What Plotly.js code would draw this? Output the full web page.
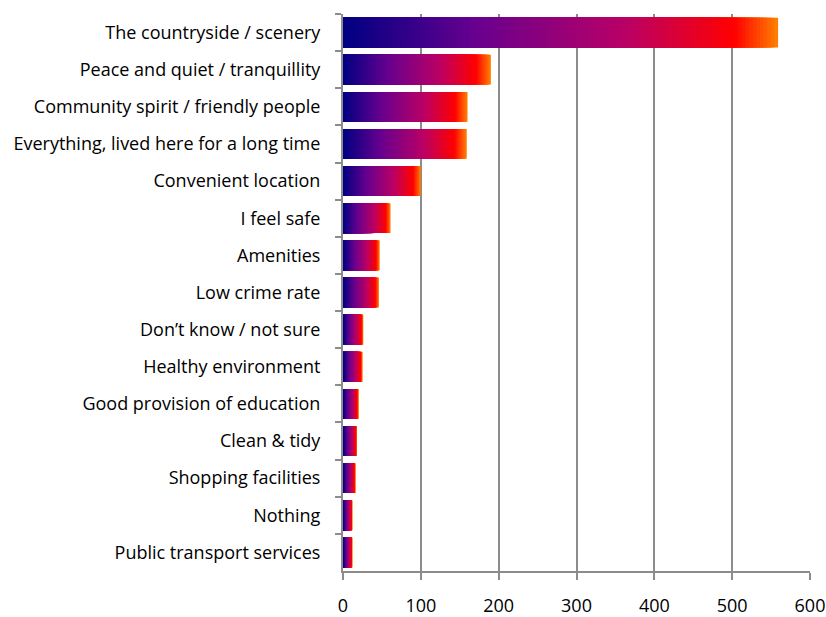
<!DOCTYPE html>
<html>
<head>
<meta charset="utf-8">
<script src="https://cdn.plot.ly/plotly-3.0.1.min.js"></script>
<style>html,body{margin:0;padding:0;background:#fff;}#chart{width:826px;height:617px;}</style>
</head>
<body>
<div id="chart"></div>
<script>
const categories = [
  "The countryside / scenery",
  "Peace and quiet / tranquillity",
  "Community spirit / friendly people",
  "Everything, lived here for a long time",
  "Convenient location",
  "I feel safe",
  "Amenities",
  "Low crime rate",
  "Don’t know / not sure",
  "Healthy environment",
  "Good provision of education",
  "Clean & tidy",
  "Shopping facilities",
  "Nothing",
  "Public transport services"
];
const values = [559, 190, 160, 159, 100, 61, 47, 46, 26, 25, 20, 18, 16, 12, 12];
const xTicks = [0, 100, 200, 300, 400, 500, 600];

// Gradient stops (Excel "Fire" preset) applied along each bar's own length
const stops = [
  [0.0, [0, 0, 130]],
  [0.3, [102, 0, 143]],
  [0.65, [186, 0, 102]],
  [0.9, [255, 0, 0]],
  [1.0, [255, 130, 0]]
];
function gradColor(t) {
  for (let i = 1; i < stops.length; i++) {
    if (t <= stops[i][0]) {
      const [t0, c0] = stops[i - 1], [t1, c1] = stops[i];
      const f = (t - t0) / (t1 - t0);
      const c = c0.map((v, k) => Math.round(v + (c1[k] - v) * f));
      return `rgb(${c[0]},${c[1]},${c[2]})`;
    }
  }
  const c = stops[stops.length - 1][1];
  return `rgb(${c[0]},${c[1]},${c[2]})`;
}

const N = 120;
const traces = [];
for (let k = 0; k < N; k++) {
  const frac = (N - k) / N;
  traces.push({
    type: 'bar',
    orientation: 'h',
    y: categories,
    x: values.map(v => v * frac),
    marker: { color: gradColor((N - k - 0.5) / N), line: { width: 0 } },
    hoverinfo: k === 0 ? 'x+y' : 'skip',
    showlegend: false
  });
}

const font = { family: '"Open Sans", Lato, sans-serif', size: 18, color: '#000' };
const layout = {
  width: 826, height: 617,
  margin: { l: 343, r: 16, t: 14, b: 46, pad: 0 },
  paper_bgcolor: '#fff', plot_bgcolor: '#fff',
  barmode: 'overlay',
  bargap: 0.2,
  font: font,
  showlegend: false,
  xaxis: {
    range: [0, 600],
    tickvals: xTicks,
    ticktext: xTicks.map(String),
    showgrid: true, gridcolor: '#8c8c8c', gridwidth: 2,
    zeroline: false,
    showline: true, linecolor: '#8c8c8c', linewidth: 2,
    ticks: 'outside', ticklen: 7, tickwidth: 2, tickcolor: '#8c8c8c',
    ticklabelstandoff: 10,
    tickfont: font,
    fixedrange: true
  },
  yaxis: {
    type: 'category',
    categoryorder: 'array', categoryarray: categories,
    autorange: 'reversed',
    showgrid: false, zeroline: false,
    showline: true, linecolor: '#8c8c8c', linewidth: 2,
    ticks: 'outside', ticklen: 6, tickwidth: 2, tickcolor: '#8c8c8c',
    tickson: 'boundaries',
    ticklabelstandoff: 17,
    tickfont: font,
    fixedrange: true
  }
};
Plotly.newPlot('chart', traces, layout, { displayModeBar: false, staticPlot: true });
</script>
</body>
</html>
